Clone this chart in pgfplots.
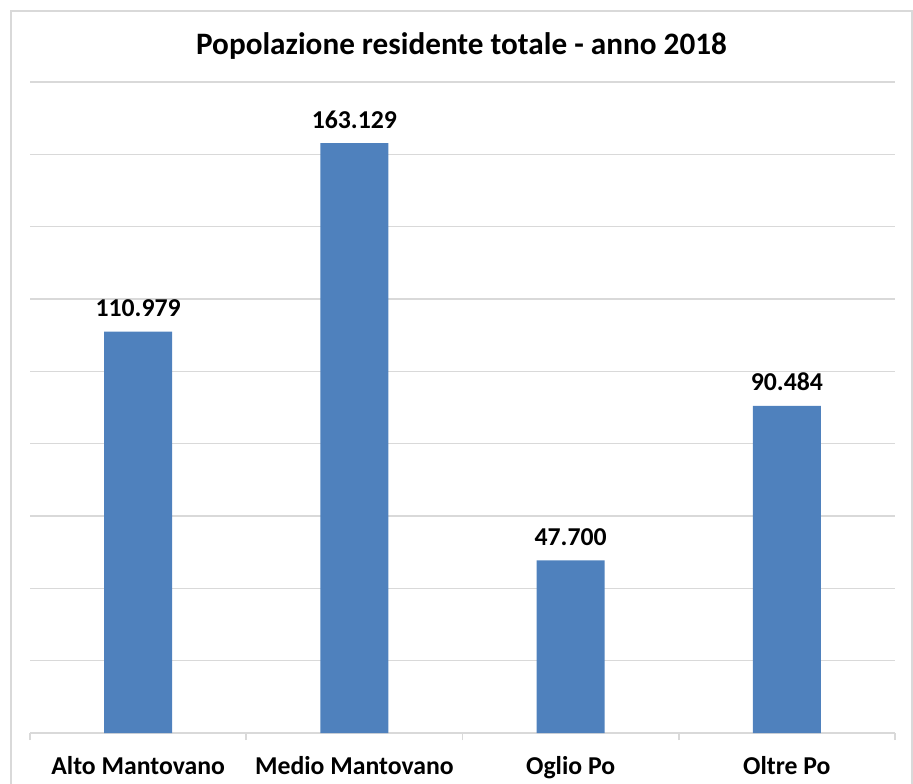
\documentclass[border=0pt]{standalone}
\usepackage{pgfplots}
\pgfplotsset{compat=1.18}
\usepackage{fontspec}
\setmainfont{Carlito}
\definecolor{barblue}{HTML}{4F81BD}
\definecolor{gridgray}{HTML}{D9D9D9}
\begin{document}
\begin{tikzpicture}
\path[use as bounding box] (0pt,0pt) rectangle (684.75pt,587.25pt);
\begin{scope}
\clip (0pt,0pt) rectangle (684.75pt,587.25pt);
\draw[gridgray, line width=1.2pt] (8.25pt,578.99pt) rectangle (684pt,-20pt);
\end{scope}
\node[font=\bfseries\fontsize{23.4}{28}\selectfont, anchor=base] at (346.1pt,546.5pt) {Popolazione residente totale - anno 2018};
\begin{axis}[
  at={(22.5pt,37.5pt)}, anchor=south west,
  scale only axis, width=648.75pt, height=488.25pt,
  xmin=-0.5, xmax=3.5, ymin=0, ymax=180000,
  scaled y ticks=false,
  ybar, bar width=51pt,
  axis x line=bottom, axis y line=left,
  axis line style={-},
  y axis line style={draw=none},
  x axis line style={draw=gridgray, line width=1.2pt},
  ytick={0,20000,...,180000}, yticklabels={},
  ytick style={draw=none},
  ymajorgrids, grid style={gridgray, line width=0.9pt},
  xtick={0,1,2,3},
  xticklabels={Alto Mantovano, Medio Mantovano, Oglio Po, Oltre Po},
  major x tick style={draw=none},
  minor xtick={-0.5,0.5,1.5,2.5,3.5},
  minor x tick style={draw=gridgray, line width=1.2pt},
  minor tick length=5.25pt,
  tick align=outside,
  xticklabel style={font=\bfseries\fontsize{19.3}{23}\selectfont, anchor=base, yshift=-27pt, inner sep=0pt},
  point meta=explicit symbolic,
  nodes near coords,
  nodes near coords style={font=\bfseries\fontsize{19.3}{23}\selectfont, anchor=base, inner sep=0pt, yshift=11.25pt},
]
\addplot[fill=barblue, draw=none] coordinates {(0,110979) [110.979] (1,163129) [163.129] (2,47700) [47.700] (3,90484) [90.484]};
\end{axis}
\end{tikzpicture}
\end{document}
